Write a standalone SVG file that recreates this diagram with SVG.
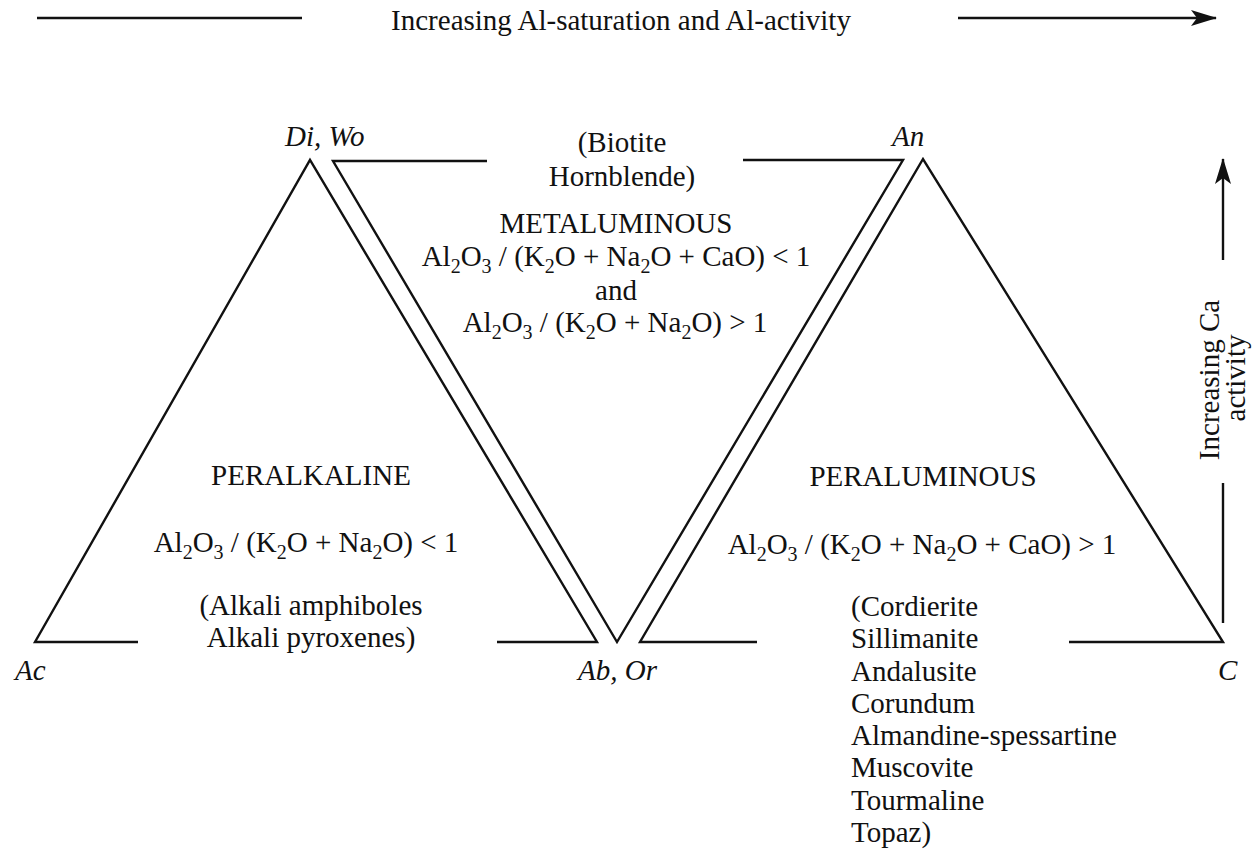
<svg xmlns="http://www.w3.org/2000/svg" width="1256" height="859" viewBox="0 0 1256 859">
<style>
.ln{fill:none;stroke:#111;stroke-width:2.4;stroke-linejoin:miter}
text{font-family:"Liberation Serif","Times New Roman",serif;font-size:29px;fill:#111}
.it{font-style:italic}
.c{text-anchor:middle}
.sub{font-size:20px}
</style>
<defs>
<marker id="ah" viewBox="0 0 26 16" refX="25" refY="8" markerWidth="26" markerHeight="16" markerUnits="userSpaceOnUse" orient="auto">
<path d="M0,0 L26,8 L0,16 L6,8 Z" fill="#111"/>
</marker>
</defs>
<rect width="1256" height="859" fill="#fff"/>
<g id="connectors">
<line class="ln" x1="37" y1="18" x2="302" y2="18"/>
<line class="ln" x1="958" y1="18" x2="1216" y2="18" marker-end="url(#ah)"/>
<line class="ln" x1="1223" y1="260" x2="1223" y2="159" marker-end="url(#ah)"/>
<line class="ln" x1="1223" y1="483" x2="1223" y2="623"/>
</g>
<text x="621" y="30" class="c">Increasing Al-saturation and Al-activity</text>
<text transform="translate(1219,380) rotate(-90)" class="c">Increasing Ca</text>
<text transform="translate(1245,378) rotate(-90)" class="c">activity</text>
<g id="peralkaline">
<polyline class="ln" points="138,642 35,642 310,160 597,642 497,642"/>
<text x="311" y="485" class="c">PERALKALINE</text>
<text x="306" y="552" class="c">Al<tspan class="sub" dy="7">2</tspan><tspan dy="-7">O</tspan><tspan class="sub" dy="7">3</tspan><tspan dy="-7"> / (K</tspan><tspan class="sub" dy="7">2</tspan><tspan dy="-7">O + Na</tspan><tspan class="sub" dy="7">2</tspan><tspan dy="-7">O) &lt; 1</tspan></text>
<text x="311" y="615" class="c">(Alkali amphiboles</text>
<text x="311" y="647" class="c">Alkali pyroxenes)</text>
</g>
<g id="metaluminous">
<polyline class="ln" points="487,161 333,161 617,642 903,160 743,160"/>
<text x="622" y="152" class="c">(Biotite</text>
<text x="622" y="186" class="c">Hornblende)</text>
<text x="616" y="233" class="c">METALUMINOUS</text>
<text x="616" y="266" class="c">Al<tspan class="sub" dy="7">2</tspan><tspan dy="-7">O</tspan><tspan class="sub" dy="7">3</tspan><tspan dy="-7"> / (K</tspan><tspan class="sub" dy="7">2</tspan><tspan dy="-7">O + Na</tspan><tspan class="sub" dy="7">2</tspan><tspan dy="-7">O + CaO) &lt; 1</tspan></text>
<text x="616" y="300" class="c">and</text>
<text x="615" y="332" class="c">Al<tspan class="sub" dy="7">2</tspan><tspan dy="-7">O</tspan><tspan class="sub" dy="7">3</tspan><tspan dy="-7"> / (K</tspan><tspan class="sub" dy="7">2</tspan><tspan dy="-7">O + Na</tspan><tspan class="sub" dy="7">2</tspan><tspan dy="-7">O) &gt; 1</tspan></text>
</g>
<g id="peraluminous">
<polyline class="ln" points="757,642 640,642 923,159 1223,642 1069,642"/>
<text x="923" y="486" class="c">PERALUMINOUS</text>
<text x="922" y="554" class="c">Al<tspan class="sub" dy="7">2</tspan><tspan dy="-7">O</tspan><tspan class="sub" dy="7">3</tspan><tspan dy="-7"> / (K</tspan><tspan class="sub" dy="7">2</tspan><tspan dy="-7">O + Na</tspan><tspan class="sub" dy="7">2</tspan><tspan dy="-7">O + CaO) &gt; 1</tspan></text>
<text x="851" y="616">(Cordierite</text>
<text x="851" y="648">Sillimanite</text>
<text x="851" y="681">Andalusite</text>
<text x="851" y="713">Corundum</text>
<text x="851" y="745">Almandine-spessartine</text>
<text x="851" y="777">Muscovite</text>
<text x="851" y="810">Tourmaline</text>
<text x="851" y="842">Topaz)</text>
</g>
<g id="vertex-di-wo"><text x="285" y="146" class="it">Di, Wo</text></g>
<g id="vertex-an"><text x="892" y="146" class="it">An</text></g>
<g id="vertex-ac"><text x="15" y="680" class="it">Ac</text></g>
<g id="vertex-ab-or"><text x="578" y="680" class="it">Ab, Or</text></g>
<g id="vertex-c"><text x="1218" y="680" class="it">C</text></g>
</svg>
